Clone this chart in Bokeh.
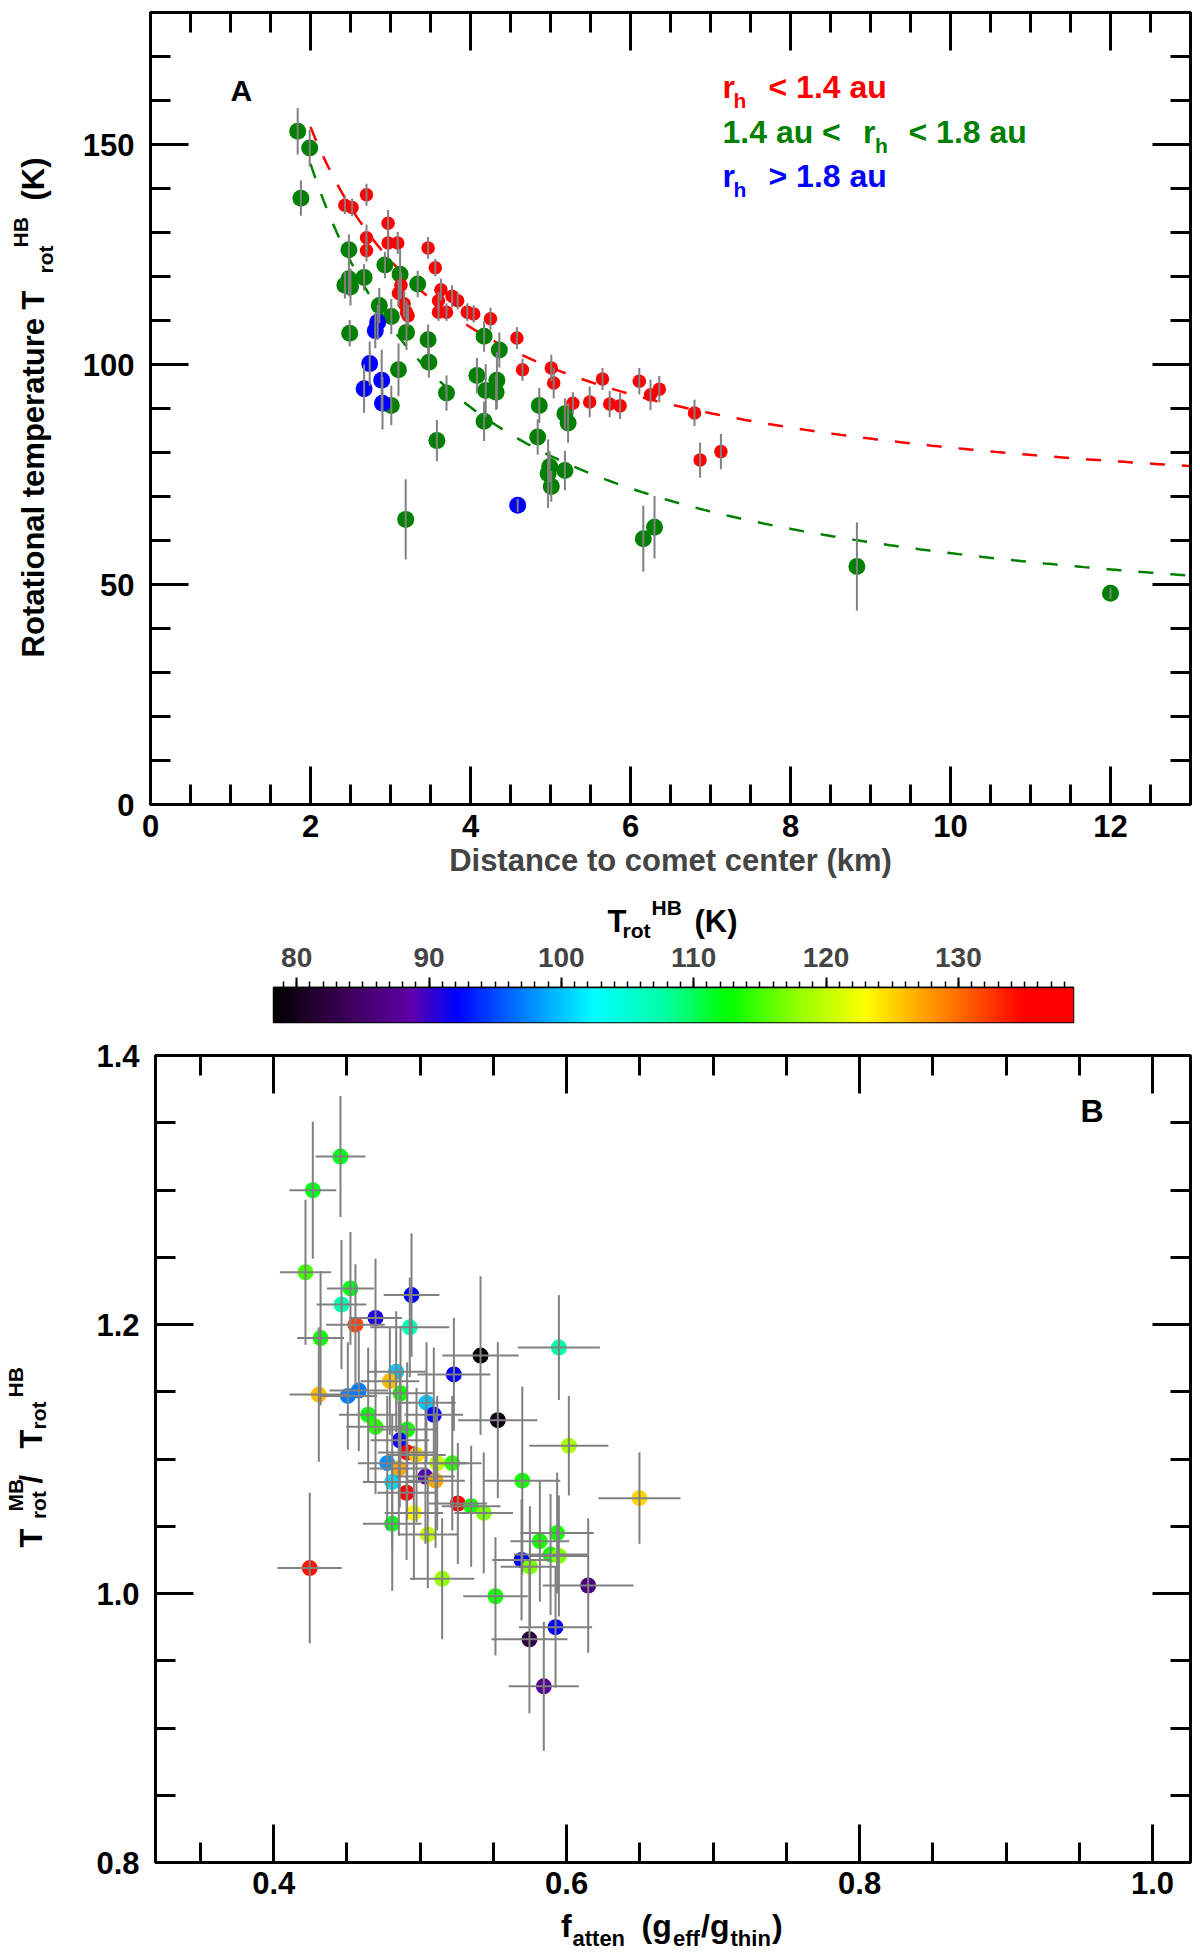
import numpy as np
from bokeh.plotting import figure
from bokeh.layouts import row
from bokeh.models import (ColumnDataSource, CustomLabelingPolicy, Label, LinearAxis,
                          LinearColorMapper, PrintfTickFormatter, Range1d, SingleIntervalTicker)
from bokeh.embed import file_html
from bokeh.resources import INLINE

FONT = "Liberation Sans"
GRAY = "#808080"

# ---------------- panel A : T_rot(HB) vs distance ----------------
red_dist = [2.70, 2.43, 2.52, 2.97, 2.70, 2.70, 2.97, 3.09, 3.47, 3.56, 3.63, 3.77, 3.84,
            3.60, 3.60, 3.70, 3.96, 4.04, 4.25, 3.13, 3.10, 3.17, 3.20, 3.22, 4.58, 4.65,
            5.01, 5.04, 5.28, 5.49, 5.65, 6.11, 6.25, 6.36, 5.74, 5.87, 6.80, 6.87, 7.13]
red_temp = [138.6, 136.2, 135.7, 132.1, 128.8, 125.9, 127.6, 127.6, 126.5, 122.0, 117.0, 115.5, 114.5,
            114.5, 111.9, 111.9, 111.9, 111.5, 110.4, 118.0, 116.2, 113.8, 111.9, 111.1, 106.0, 98.8,
            99.2, 95.8, 91.2, 91.5, 96.7, 96.2, 93.1, 94.4, 91.0, 90.6, 89.0, 78.3, 80.2]
red_err = [2.5, 2.0, 2.0, 3.0, 3.0, 2.5, 3.5, 2.5, 2.5, 2.0, 2.5, 2.5, 2.0,
           2.0, 2.0, 2.0, 2.0, 2.0, 2.5, 3.0, 3.0, 3.0, 2.5, 2.5, 2.5, 2.5,
           3.0, 3.5, 2.5, 3.5, 2.5, 3.0, 3.5, 3.0, 3.0, 3.0, 3.0, 4.0, 4.0]

green_dist = [1.84, 1.99, 1.88, 2.48, 2.67, 2.48, 2.43, 2.50, 2.93, 3.12, 3.34, 2.86, 3.01,
              2.49, 3.20, 3.47, 3.48, 3.10, 3.70, 3.01, 3.58, 4.17, 4.36, 4.08, 4.19, 4.33,
              4.32, 4.17, 4.86, 4.84, 5.18, 5.22, 4.99, 4.97, 5.01, 5.18, 3.19, 6.16, 6.30,
              8.83, 12.0]
green_temp = [153.0, 149.2, 137.8, 126.1, 119.8, 119.5, 118.0, 117.6, 122.6, 120.5, 118.3, 113.4, 110.9,
              107.1, 107.3, 105.6, 100.5, 98.8, 93.5, 90.7, 82.7, 106.4, 103.3, 97.5, 94.1, 96.4,
              93.7, 87.1, 90.7, 83.5, 88.8, 86.7, 76.8, 75.2, 72.3, 75.9, 64.8, 60.4, 63.0,
              54.1, 48.0]
green_err = [5.3, 4.2, 4.0, 3.5, 3.0, 4.0, 3.0, 4.2, 3.0, 5.7, 3.0, 4.0, 4.0,
             3.0, 4.0, 3.5, 3.5, 6.0, 4.0, 4.5, 4.7, 3.5, 4.0, 4.0, 6.0, 6.5,
             4.0, 4.5, 4.0, 4.0, 3.5, 4.5, 3.5, 7.8, 3.5, 4.5, 9.1, 7.5, 7.1,
             10.0, 1.3]

blue_dist = [2.84, 2.81, 2.74, 2.89, 2.67, 2.90, 4.59]
blue_temp = [109.6, 107.7, 100.2, 96.4, 94.5, 91.2, 68.0]
blue_err = [4.0, 4.0, 5.0, 7.0, 5.5, 6.0, 1.5]

# fitted curves T = a + b / r  (a, b)
fit_red = (62.9, 182.2)
fit_green = (35.0, 221.2)

# ---------------- panel B : T_MB/T_HB vs f_atten ----------------
f_atten = [0.4456, 0.4267, 0.4217, 0.4524, 0.4463, 0.4941, 0.4695, 0.4558, 0.4929, 0.4320,
           0.4308, 0.5230, 0.4836, 0.4793, 0.4581, 0.4506, 0.4866, 0.5043, 0.5093, 0.4645,
           0.4695, 0.4911, 0.5412, 0.5947, 0.5530, 0.6015, 0.6497, 0.5697, 0.4861, 0.4911,
           0.4975, 0.4775, 0.4854, 0.5116, 0.5219, 0.5036, 0.5105, 0.4809, 0.4907, 0.5257,
           0.5348, 0.5434, 0.4957, 0.4809, 0.5052, 0.5150, 0.5514, 0.5817, 0.5935, 0.5890,
           0.5947, 0.5692, 0.5749, 0.6147, 0.5924, 0.5746, 0.4246, 0.5844]
f_err = [0.017, 0.016, 0.0175, 0.016, 0.017, 0.019, 0.018, 0.020, 0.027, 0.016,
         0.020, 0.025, 0.020, 0.020, 0.020, 0.020, 0.022, 0.020, 0.020, 0.020,
         0.020, 0.020, 0.026, 0.028, 0.027, 0.027, 0.028, 0.026, 0.020, 0.020,
         0.020, 0.020, 0.020, 0.020, 0.020, 0.020, 0.020, 0.020, 0.020, 0.020,
         0.020, 0.020, 0.020, 0.020, 0.020, 0.022, 0.022, 0.020, 0.025, 0.025,
         0.020, 0.020, 0.020, 0.031, 0.025, 0.026, 0.022, 0.024]
ratio = [1.325, 1.300, 1.239, 1.227, 1.215, 1.222, 1.205, 1.200, 1.198, 1.190,
         1.148, 1.163, 1.165, 1.158, 1.151, 1.147, 1.149, 1.142, 1.133, 1.133,
         1.124, 1.122, 1.177, 1.183, 1.129, 1.110, 1.071, 1.084, 1.114, 1.105,
         1.103, 1.097, 1.093, 1.097, 1.097, 1.087, 1.084, 1.083, 1.075, 1.067,
         1.065, 1.060, 1.060, 1.052, 1.044, 1.011, 0.998, 1.039, 1.045, 1.029,
         1.028, 1.025, 1.020, 1.006, 0.975, 0.966, 1.019, 0.931]
ratio_err = [0.045, 0.051, 0.054, 0.042, 0.048, 0.046, 0.044, 0.045, 0.037, 0.050,
             0.050, 0.042, 0.045, 0.040, 0.045, 0.040, 0.050, 0.045, 0.050, 0.050,
             0.050, 0.050, 0.059, 0.039, 0.058, 0.037, 0.034, 0.070, 0.050, 0.050,
             0.050, 0.050, 0.050, 0.050, 0.050, 0.050, 0.050, 0.050, 0.050, 0.045,
             0.045, 0.045, 0.050, 0.050, 0.040, 0.045, 0.044, 0.045, 0.045, 0.045,
             0.045, 0.045, 0.045, 0.050, 0.045, 0.055, 0.056, 0.048]
t_hb = [112, 112, 115, 112, 107, 92, 91, 132, 107, 113,
        126, 92, 100, 126, 97, 97, 113, 100, 92, 113,
        114, 113, 78.5, 108, 79.5, 119, 125, 113, 92, 136,
        125, 98, 127, 120, 114, 89, 127, 101, 136, 136,
        113, 117, 123, 112, 120, 118, 113, 113, 113, 113,
        117, 92, 117, 86, 92, 82, 134, 87]

# colour scale (style)
cb_low, cb_high = 78.25, 138.7
stop_t = [78.25, 81, 85, 88.5, 92, 97, 102.5, 108, 112.5, 118, 123, 127, 131, 135, 138.7]
stop_rgb = [(0, 0, 0), (35, 0, 45), (70, 0, 110), (95, 0, 170), (0, 0, 255), (0, 125, 255),
            (0, 255, 255), (0, 255, 160), (0, 255, 0), (150, 255, 0), (255, 255, 0),
            (255, 170, 0), (255, 90, 0), (255, 0, 0), (255, 0, 0)]
tt = np.linspace(cb_low, cb_high, 256)
chan = [np.interp(tt, stop_t, [c[i] for c in stop_rgb]) for i in range(3)]
palette = ["#%02x%02x%02x" % (int(r), int(g), int(b)) for r, g, b in zip(*chan)]
mapper = LinearColorMapper(palette=palette, low=cb_low, high=cb_high)

up = np.pi / 2


def style_axis(ax, size=31, standoff=12):
    ax.axis_line_width = 3
    ax.major_tick_line_width = 3
    ax.minor_tick_line_width = 3
    ax.major_tick_in = 38
    ax.major_tick_out = 0
    ax.minor_tick_in = 20
    ax.minor_tick_out = 0
    ax.major_label_text_font = FONT
    ax.major_label_text_font_style = "bold"
    ax.major_label_text_font_size = "%dpx" % size
    ax.major_label_text_color = "black"
    ax.major_label_standoff = standoff


def mirror(p, interval, minors, side):
    # ticks only, no labels
    ax = LinearAxis(ticker=SingleIntervalTicker(interval=interval, num_minor_ticks=minors))
    style_axis(ax, size=1, standoff=0)
    ax.major_label_policy = CustomLabelingPolicy(code="return new Set()")
    ax.axis_label_standoff = 0
    p.add_layout(ax, side)


def txt(p, x, y, text, size, color="black", angle=0.0, align="left", kx=1.0, ky=1.0):
    # (x, y) is the baseline point; the label is anchored at the bottom of its box,
    # so shift by the font descent (kx, ky = pixels per data unit)
    d = 0.212 * size
    if angle:
        x = x + d / kx
    else:
        y = y - d / ky
    p.add_layout(Label(x=x, y=y, text=text, text_font=FONT, text_font_style="bold",
                       text_font_size="%dpx" % size, text_color=color, angle=angle,
                       text_align=align, text_baseline="bottom"))


def text_panel(w, h, top=0, bottom=0):
    # blank figure whose frame (in pixel units) holds axis titles
    f = figure(frame_width=w, frame_height=h, x_range=Range1d(0, w), y_range=Range1d(0, h),
               x_axis_location=None, y_axis_location=None, output_backend="svg",
               toolbar_location=None, min_border_left=0, min_border_right=0,
               min_border_top=top, min_border_bottom=bottom)
    f.outline_line_color = None
    f.grid.visible = False
    return f


# ---------------- figure A ----------------
pa = figure(frame_width=1040, frame_height=792, x_range=Range1d(0, 13), y_range=Range1d(0, 180),
            output_backend="svg", toolbar_location=None,
            min_border_left=82, min_border_right=2, min_border_top=12, min_border_bottom=88)
pa.grid.visible = False
pa.outline_line_color = "black"
pa.outline_line_width = 3
pa.xaxis.ticker = SingleIntervalTicker(interval=2, num_minor_ticks=4)
pa.yaxis.ticker = SingleIntervalTicker(interval=50, num_minor_ticks=5)
style_axis(pa.xaxis[0], standoff=10)
style_axis(pa.yaxis[0], standoff=16)
pa.xaxis.axis_label = "Distance to comet center (km)"
pa.xaxis.axis_label_text_font = FONT
pa.xaxis.axis_label_text_font_style = "bold"
pa.xaxis.axis_label_text_font_size = "31px"
pa.xaxis.axis_label_standoff = 3
mirror(pa, 2, 4, "above")
mirror(pa, 50, 5, "right")

fx = np.linspace(2.0, 13.0, 200)
pa.line(fx, fit_red[0] + fit_red[1] / fx, line_color="red", line_width=2.5, line_dash="15 17")
pa.line(fx, fit_green[0] + fit_green[1] / fx, line_color="green", line_width=2.5, line_dash="15 17")

groups = [(green_dist, green_temp, green_err, "green", 17),
          (red_dist, red_temp, red_err, "red", 13.5),
          (blue_dist, blue_temp, blue_err, "blue", 17)]
for d, t, e, col, sz in groups:
    pa.scatter(d, t, size=sz, fill_color=col, line_color=None)
for d, t, e, col, sz in groups:
    src = ColumnDataSource(dict(x=d, lo=np.array(t) - np.array(e), hi=np.array(t) + np.array(e)))
    pa.segment(x0="x", y0="lo", x1="x", y1="hi", source=src, line_color=GRAY, line_width=2)

KA = dict(kx=80.0, ky=4.4)
txt(pa, 1.0, 160.0, "A", 30, **KA)
# legend
txt(pa, 7.15, 160.45, "r", 32, "red", **KA)
txt(pa, 7.2875, 158.4, "h", 21, "red", **KA)
txt(pa, 7.725, 160.45, "< 1.4 au", 32, "red", **KA)
txt(pa, 7.15, 150.23, "1.4 au <", 32, "green", **KA)
txt(pa, 8.906, 150.23, "r", 32, "green", **KA)
txt(pa, 9.0575, 148.2, "h", 21, "green", **KA)
txt(pa, 9.475, 150.23, "< 1.8 au", 32, "green", **KA)
txt(pa, 7.15, 140.23, "r", 32, "blue", **KA)
txt(pa, 7.2875, 138.2, "h", 21, "blue", **KA)
txt(pa, 7.725, 140.23, "> 1.8 au", 32, "blue", **KA)

# y title of A, in its own strip left of the plot
la = text_panel(68, 792, top=12, bottom=88)
txt(la, 44, 514, "Rotational temperature T", 31, angle=up, align="right")
txt(la, 52, 531, "rot", 21, angle=up)
txt(la, 27.5, 557, "HB", 21, angle=up)
txt(la, 44, 604, "(K)", 31, angle=up)

# ---------------- colour bar ----------------
ct = text_panel(1192, 50)
txt(ct, 607, 10, "T", 31)
txt(ct, 622, 5, "rot", 21)
txt(ct, 651, 28, "HB", 21)
txt(ct, 694, 10, "(K)", 31)

pc = figure(frame_width=800, frame_height=35, x_range=Range1d(cb_low, cb_high), y_range=Range1d(0, 1),
            x_axis_location="above", output_backend="svg", toolbar_location=None,
            min_border_left=273, min_border_right=110, min_border_top=45, min_border_bottom=17)
pc.grid.visible = False
pc.yaxis.visible = False
pc.outline_line_color = "black"
pc.outline_line_width = 1.5
pc.image(image=[tt.reshape(1, -1)], x=cb_low, y=0, dw=cb_high - cb_low, dh=1, color_mapper=mapper)
cax = pc.xaxis[0]
cax.ticker = SingleIntervalTicker(interval=10, num_minor_ticks=10)
cax.axis_line_width = 1.5
cax.major_tick_line_width = 2
cax.minor_tick_line_width = 1.5
cax.major_tick_in = 0
cax.major_tick_out = 10
cax.minor_tick_in = 0
cax.minor_tick_out = 6
cax.major_label_text_font = FONT
cax.major_label_text_font_style = "bold"
cax.major_label_text_font_size = "28px"
cax.major_label_standoff = 11

# ---------------- figure B ----------------
pb = figure(frame_width=1035, frame_height=807, x_range=Range1d(0.3193, 1.0259),
            y_range=Range1d(0.8, 1.4002), output_backend="svg", toolbar_location=None,
            min_border_left=87, min_border_right=2, min_border_top=16, min_border_bottom=45)
pb.grid.visible = False
pb.outline_line_color = "black"
pb.outline_line_width = 3
pb.xaxis.ticker = SingleIntervalTicker(interval=0.2, num_minor_ticks=4)
pb.yaxis.ticker = SingleIntervalTicker(interval=0.2, num_minor_ticks=4)
pb.xaxis.formatter = PrintfTickFormatter(format="%.1f")
pb.yaxis.formatter = PrintfTickFormatter(format="%.1f")
style_axis(pb.xaxis[0], standoff=9)
style_axis(pb.yaxis[0], standoff=16)
mirror(pb, 0.2, 4, "above")
mirror(pb, 0.2, 4, "right")

fa = np.array(f_atten)
fe = np.array(f_err)
ra = np.array(ratio)
re_ = np.array(ratio_err)
srcb = ColumnDataSource(dict(x=fa, y=ra, t=t_hb, xl=fa - fe, xh=fa + fe, yl=ra - re_, yh=ra + re_))
pb.scatter("x", "y", source=srcb, size=16, line_color=None,
           fill_color={"field": "t", "transform": mapper})
pb.segment(x0="x", y0="yl", x1="x", y1="yh", source=srcb, line_color=GRAY, line_width=2)
pb.segment(x0="xl", y0="y", x1="xh", y1="y", source=srcb, line_color=GRAY, line_width=2)

txt(pb, 0.9508, 1.3504, "B", 32, kx=1464.7, ky=1346.0)

# y title of B
lb = text_panel(68, 807, top=16, bottom=45)
txt(lb, 41.7, 315, "T", 31, angle=up)
txt(lb, 45, 343.4, "rot", 21, angle=up)
txt(lb, 21.7, 351, "MB", 21, angle=up)
txt(lb, 41.7, 379, "/", 31, angle=up)
txt(lb, 41.7, 414, "T", 31, angle=up)
txt(lb, 45, 433, "rot", 21, angle=up)
txt(lb, 21.7, 465, "HB", 21, angle=up)

# x title of B
xb = text_panel(1192, 52)
txt(xb, 560.5, 22.3, "f", 32)
txt(xb, 572, 13.3, "atten", 22)
txt(xb, 641, 22.3, "(g", 32)
txt(xb, 672.5, 13.3, "eff", 22)
txt(xb, 700.5, 22.3, "/g", 32)
txt(xb, 730, 13.3, "thin", 22)
txt(xb, 771.5, 22.3, ")", 32)

open("out.html", "w").write(file_html([row(la, pa), ct, pc, row(lb, pb), xb], INLINE))
